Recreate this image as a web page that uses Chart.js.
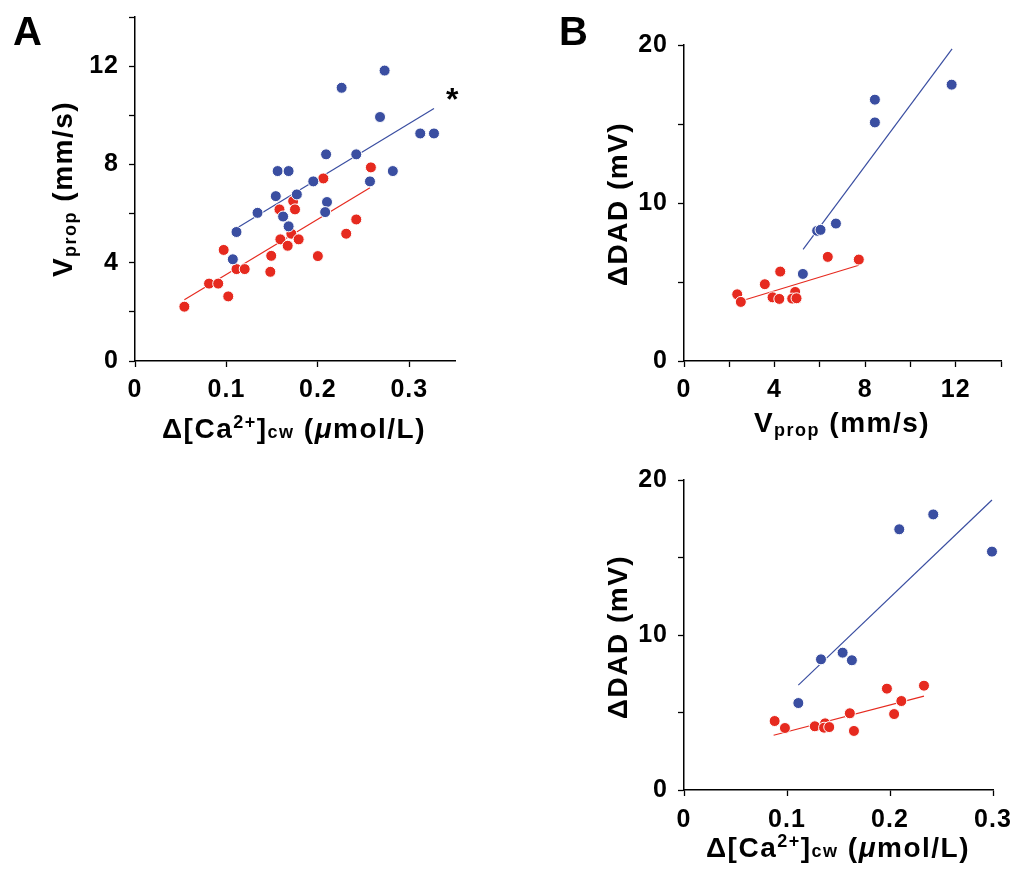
<!DOCTYPE html>
<html>
<head>
<meta charset="utf-8">
<script src="https://cdn.jsdelivr.net/npm/chart.js@4.4.1/dist/chart.umd.min.js"></script>
<style>
  body { margin: 0; background: #fff; }
  #wrap { position: relative; width: 1020px; height: 874px; overflow: hidden; }
  canvas { position: absolute; }
</style>
</head>
<body>
<div id="wrap">
  <canvas id="panelA" width="480" height="460" style="left:0;top:0"></canvas>
  <canvas id="panelB1" width="480" height="450" style="left:540px;top:0"></canvas>
  <canvas id="panelB2" width="480" height="414" style="left:540px;top:460px"></canvas>
</div>
<script>
// Panel A: Vprop vs delta [Ca2+]cw
const aBlueCa = [0.273, 0.226, 0.268, 0.312, 0.327, 0.209, 0.242, 0.156, 0.168, 0.282, 0.195, 0.257, 0.154, 0.177, 0.210, 0.208, 0.134, 0.162, 0.168, 0.111, 0.107]
const aBlueV = [11.82, 11.12, 9.93, 9.26, 9.26, 8.41, 8.41, 7.73, 7.73, 7.73, 7.31, 7.31, 6.71, 6.78, 6.47, 6.06, 6.03, 5.88, 5.48, 5.25, 4.14]
const aRedCa = [0.258, 0.206, 0.173, 0.158, 0.175, 0.242, 0.231, 0.171, 0.159, 0.179, 0.167, 0.097, 0.149, 0.200, 0.111, 0.120, 0.148, 0.081, 0.091, 0.102, 0.054]
const aRedV = [7.88, 7.43, 6.51, 6.17, 6.17, 5.76, 5.18, 5.18, 4.95, 4.95, 4.69, 4.52, 4.28, 4.27, 3.74, 3.74, 3.63, 3.15, 3.15, 2.63, 2.21]
const aBlueFitX = [0.112, 0.327]
const aBlueFitY = [5.42, 10.28]
const aRedFitX = [0.054, 0.257]
const aRedFitY = [2.49, 7.05]

// Panel B top: delta DAD vs Vprop
const b1BlueV = [11.82, 8.43, 8.43, 6.71, 5.88, 6.03, 5.25]
const b1BlueDad = [17.49, 16.54, 15.10, 8.70, 8.24, 8.30, 5.51]
const b1RedV = [7.72, 6.35, 4.25, 3.57, 2.35, 2.51, 3.91, 4.21, 4.91, 4.78, 4.97]
const b1RedDad = [6.42, 6.59, 5.66, 4.86, 4.22, 3.74, 4.03, 3.93, 4.37, 3.95, 3.97]
const b1BlueFitX = [5.26, 11.84]
const b1BlueFitY = [7.07, 19.75]
const b1RedFitX = [2.74, 7.72]
const b1RedFitY = [3.89, 6.06]

// Panel B bottom: delta DAD vs delta [Ca2+]cw
const b2BlueCa = [0.242, 0.209, 0.299, 0.154, 0.133, 0.163, 0.111]
const b2BlueDad = [17.78, 16.82, 15.38, 8.86, 8.43, 8.37, 5.61]
const b2RedCa = [0.233, 0.197, 0.211, 0.204, 0.161, 0.088, 0.098, 0.127, 0.137, 0.136, 0.141, 0.165]
const b2RedDad = [6.73, 6.54, 5.74, 4.90, 4.95, 4.45, 4.00, 4.11, 4.30, 4.02, 4.06, 3.81]
const b2BlueFitX = [0.111, 0.299]
const b2BlueFitY = [6.77, 18.71]
const b2RedFitX = [0.087, 0.233]
const b2RedFitY = [3.53, 6.06]

const BLUE = "#3a4ea1"
const RED = "#e62a1f"
const FONT = "'Liberation Sans', Arial, sans-serif"

const pts = (xs, ys) => xs.map((x, i) => ({ x, y: ys[i] }))
const fmt = v => v === 0 ? "0" : String(Math.round(v * 100) / 100)

const caTitle = [
  { t: "\u0394[Ca" }, { t: "2+", s: 0.64, dy: -0.36 }, { t: "]" },
  { t: "cw", s: 0.64 }, { t: " (" }, { t: "\u03bc", it: true }, { t: "mol/L)" }
]
const vTitle = [{ t: "V" }, { t: "prop", s: 0.66, dy: 0.14 }, { t: " (mm/s)" }]
const dadTitle = [{ t: "\u0394DAD (mV)" }]

// draws titles made of pieces with different sizes (sub/superscripts)
const richText = {
  id: "richText",
  beforeDraw(chart) {
    chart.ctx.letterSpacing = "1px"
  },
  afterDraw(chart, args, opts) {
    const ctx = chart.ctx
    for (const item of opts.items || []) {
      ctx.save()
      let x = item.x, y = item.y
      if (item.dataX !== undefined) {
        x = chart.scales.x.getPixelForValue(item.dataX)
        y = chart.scales.y.getPixelForValue(item.dataY)
      }
      ctx.translate(x, y)
      if (item.rotate) ctx.rotate(-Math.PI / 2)
      ctx.letterSpacing = item.spacing || "1.5px"
      ctx.fillStyle = "#000"
      ctx.textAlign = "left"
      ctx.textBaseline = "alphabetic"
      const fontOf = p => `${p.it ? "italic " : ""}bold ${Math.round(item.size * (p.s || 1))}px ${FONT}`
      let total = 0
      for (const p of item.parts) {
        ctx.font = fontOf(p)
        total += ctx.measureText(p.t).width
      }
      let cx = -total / 2
      for (const p of item.parts) {
        ctx.font = fontOf(p)
        ctx.fillText(p.t, cx, (p.dy || 0) * item.size)
        cx += ctx.measureText(p.t).width
      }
      ctx.restore()
    }
  }
}

function axis(min, max, tickVals, labelVals, fixed, isY, padding) {
  return {
    type: "linear",
    min, max,
    afterBuildTicks: s => { s.ticks = tickVals.map(v => ({ value: v })) },
    afterFit: s => {
      if (isY) s.width = fixed; else s.height = fixed
      // keep the plot area exactly where layout.padding puts it
      s.paddingTop = 0; s.paddingBottom = 0; s.paddingLeft = 0; s.paddingRight = 0
    },
    ticks: {
      autoSkip: false,
      maxRotation: 0,
      padding: padding,
      color: "#000",
      font: { family: FONT, size: 25, weight: "bold" },
      callback: v => labelVals.some(l => Math.abs(l - v) < 1e-9) ? fmt(v) : ""
    },
    grid: { display: true, drawOnChartArea: false, drawTicks: true, tickLength: 6, tickColor: "#000", tickWidth: 1.3 },
    border: { display: true, color: "#000", width: 1.5 }
  }
}

function scatterSet(data, color) {
  return {
    type: "scatter", data, order: 1, clip: false,
    backgroundColor: color, borderColor: "#fff", borderWidth: 1,
    pointRadius: 5.5, pointHoverRadius: 5.5
  }
}

function fitSet(data, color) {
  return {
    type: "line", data, order: 2, clip: false,
    borderColor: color, borderWidth: 1.2, pointRadius: 0, fill: false, tension: 0
  }
}

function makeChart(id, datasets, scales, padding, items) {
  return new Chart(document.getElementById(id), {
    type: "scatter",
    data: { datasets },
    options: {
      responsive: false,
      animation: false,
      events: [],
      layout: { padding },
      scales,
      plugins: { legend: { display: false }, tooltip: { enabled: false }, richText: { items } }
    },
    plugins: [richText]
  })
}

makeChart("panelA", [
  fitSet(pts(aBlueFitX, aBlueFitY), BLUE),
  fitSet(pts(aRedFitX, aRedFitY), RED),
  scatterSet(pts(aBlueCa, aBlueV), BLUE),
  scatterSet(pts(aRedCa, aRedV), RED)
], {
  x: axis(0, 0.35, [0, 0.1, 0.2, 0.3], [0, 0.1, 0.2, 0.3], 99, false, 8),
  y: axis(0, 14, [0, 2, 4, 6, 8, 10, 12, 14], [0, 4, 8, 12], 135, true, 10)
}, { left: 0, top: 17, right: 25, bottom: 0 }, [
  { parts: caTitle, x: 294, y: 438, size: 28 },
  { parts: vTitle, x: 72, y: 189, size: 28, rotate: true },
  { parts: [{ t: "A" }], x: 28, y: 45, size: 40, spacing: "1px" },
  { parts: [{ t: "*" }], dataX: 0.347, dataY: 10.2, size: 32, spacing: "0px" }
])

makeChart("panelB1", [
  fitSet(pts(b1BlueFitX, b1BlueFitY), BLUE),
  fitSet(pts(b1RedFitX, b1RedFitY), RED),
  scatterSet(pts(b1BlueV, b1BlueDad), BLUE),
  scatterSet(pts(b1RedV, b1RedDad), RED)
], {
  x: axis(0, 14, [0, 2, 4, 6, 8, 10, 12, 14], [0, 4, 8, 12], 89, false, 8),
  y: axis(0, 20, [0, 5, 10, 15, 20], [0, 10, 20], 144, true, 10)
}, { left: 0, top: 45, right: 19, bottom: 0 }, [
  { parts: vTitle, x: 302, y: 432, size: 28 },
  { parts: dadTitle, x: 87, y: 204, size: 28, rotate: true },
  { parts: [{ t: "B" }], x: 34, y: 45, size: 40, spacing: "1px" }
])

makeChart("panelB2", [
  fitSet(pts(b2BlueFitX, b2BlueFitY), BLUE),
  fitSet(pts(b2RedFitX, b2RedFitY), RED),
  scatterSet(pts(b2BlueCa, b2BlueDad), BLUE),
  scatterSet(pts(b2RedCa, b2RedDad), RED)
], {
  x: axis(0, 0.3, [0, 0.1, 0.2, 0.3], [0, 0.1, 0.2, 0.3], 84, false, 9),
  y: axis(0, 20, [0, 5, 10, 15, 20], [0, 10, 20], 144, true, 10)
}, { left: 0, top: 20, right: 27, bottom: 0 }, [
  { parts: caTitle, x: 298, y: 397, size: 28 },
  { parts: dadTitle, x: 87, y: 177, size: 28, rotate: true }
])
</script>
</body>
</html>
